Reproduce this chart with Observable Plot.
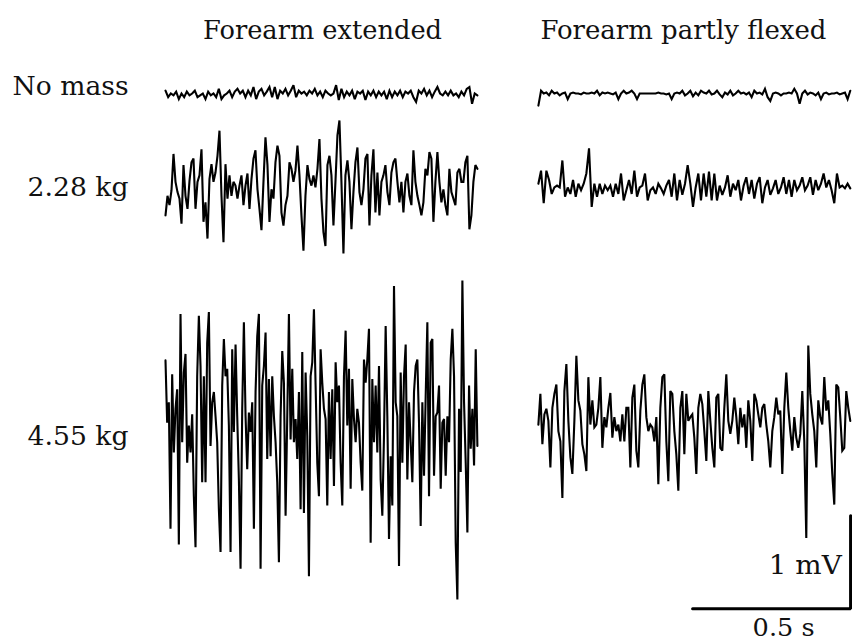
<!DOCTYPE html>
<html>
<head>
<meta charset="utf-8">
<script src="https://cdn.jsdelivr.net/npm/d3@7"></script>
<script src="https://cdn.jsdelivr.net/npm/@observablehq/plot@0.6"></script>
<style>
  html, body { margin: 0; padding: 0; background: #fff; }
  #chart { width: 852px; height: 643px; overflow: hidden; }
</style>
</head>
<body>
<div id="chart"></div>
<script>
// ---- Labels ----
const columns = ["Forearm extended", "Forearm partly flexed"];
const rows = ["No mass", "2.28 kg", "4.55 kg"];
const scaleBarLabels = ["1 mV", "0.5 s"];
const scaleBarValues = { mV: 1, s: 0.5 };
const traceDuration = 0.987; // seconds per trace

// ---- EMG traces (mV, deviations from each trace's own baseline) ----
const extended_noMass = [0.04,-0.03,0.01,-0.01,0.03,-0.05,0.01,-0.03,0.03,-0.01,0.01,0.04,-0.03,-0.01,0.01,-0.05,0.03,-0.01,0.01,-0.03,0.06,-0.05,-0.01,0.01,0.04,-0.03,0.03,0.06,0.01,0.04,-0.03,0.04,-0.01,0.08,-0.05,0.03,0.06,-0.01,0.03,0.08,-0.03,0.08,-0.05,0.04,0.01,0.06,-0.01,0.04,0.10,-0.03,0.04,0.01,0.03,-0.01,0.04,0.01,0.06,-0.01,0.03,-0.03,0.04,0.01,-0.01,0.01,0.10,-0.06,0.06,-0.03,0.03,-0.01,0.04,-0.05,0.03,0.01,0.04,-0.06,0.03,-0.01,0.04,-0.03,0.03,-0.01,0.03,-0.05,0.04,-0.03,0.03,-0.01,0.04,-0.03,0.03,0.01,0.04,-0.03,-0.08,0.04,0.01,0.06,-0.01,0.04,-0.03,0.03,0.08,0.01,-0.01,0.03,-0.01,0.04,-0.01,0.01,-0.03,0.03,-0.01,0.06,0.08,-0.10,0.01,-0.01];

const extended_228 = [-0.32,-0.11,-0.21,-0.05,0.34,0.04,-0.07,-0.14,-0.41,0.22,-0.11,-0.25,0.05,0.25,0.29,-0.25,0.04,0.11,0.39,-0.39,-0.18,-0.57,0.07,0.23,0.04,0.14,0.32,0.59,-0.11,-0.61,0.23,-0.14,0.11,-0.11,0.04,0.00,-0.14,0.00,0.11,-0.21,0.00,0.13,-0.25,0.07,0.29,0.38,-0.04,-0.25,-0.48,0.04,0.52,0.22,-0.39,-0.04,-0.14,0.25,0.43,0.32,-0.29,-0.43,-0.21,-0.11,0.25,0.18,0.04,0.16,0.43,0.11,-0.32,-0.70,-0.11,0.22,0.07,0.00,0.11,-0.02,0.18,0.50,-0.14,-0.50,
  -0.65,0.22,0.32,0.11,-0.43,0.04,0.54,0.70,0.04,-0.73,0.11,0.27,0.04,-0.47,-0.07,0.25,0.41,-0.07,-0.21,-0.04,0.29,0.34,-0.43,0.11,0.39,-0.29,0.14,-0.32,0.04,0.11,0.22,-0.07,-0.21,0.14,0.25,0.29,0.04,-0.18,0.04,-0.29,0.04,0.13,-0.11,-0.21,0.38,0.04,-0.11,-0.21,-0.32,-0.18,0.18,0.11,0.36,0.29,-0.39,0.04,0.36,0.04,-0.18,-0.04,-0.21,-0.32,0.18,-0.07,-0.14,-0.21,0.14,0.18,0.04,0.04,0.25,0.32,-0.47,-0.32,0.04,0.22,0.18];

const extended_455 = [0.65,-0.02,0.20,-1.16,0.50,-0.34,0.13,0.34,-1.33,1.15,-0.23,0.52,0.72,-0.45,-0.05,-0.34,0.07,-0.81,-1.36,0.48,1.13,0.59,-0.66,0.48,-0.66,0.84,1.17,-0.27,0.20,0.31,0.05,-0.23,-0.95,-1.41,0.38,0.88,0.48,0.56,-0.05,-1.41,0.77,-0.12,0.82,0.05,-0.63,-1.59,0.13,1.06,0.05,-0.52,0.09,-0.12,0.20,-1.16,0.31,0.91,1.15,-1.59,0.38,0.59,0.95,-0.41,0.45,-0.38,0.48,0.05,-0.23,-0.66,-1.52,0.05,0.75,0.41,-1.02,0.05,1.15,-0.20,0.56,-0.23,0.02,-0.41,0.31,-0.95,0.74,-0.99,0.52,-0.16,-1.67,0.48,0.63,1.20,0.38,-0.45,-0.81,0.77,0.41,0.13,
  0.02,-0.91,0.31,-0.41,0.34,-0.70,0.63,0.20,0.38,-0.45,-0.91,0.48,0.97,-0.05,0.56,-0.73,0.45,0.02,-0.23,0.13,-0.02,-0.45,-0.75,0.66,0.41,0.66,0.99,-1.31,0.45,-0.23,0.38,-0.34,0.59,-0.63,-1.02,-0.16,1.02,0.05,-1.27,-0.38,-0.91,1.45,0.20,0.05,-1.56,0.52,-0.45,0.48,0.82,-0.63,0.20,-0.23,-0.66,0.31,0.59,0.66,-0.02,-1.13,0.20,-0.59,0.27,1.06,-0.81,0.84,0.88,-0.59,0.05,0.09,0.38,-0.73,-0.02,0.02,-0.59,0.05,-0.23,0.66,0.99,0.48,-1.31,-1.92,0.13,-0.55,1.51,0.20,-0.45,-1.20,0.38,-0.30,0.13,-0.48,0.77,-0.27];

const flexed_noMass = [-0.13,0.03,0.00,0.01,-0.02,0.03,0.00,0.01,-0.02,0.00,0.01,-0.06,0.00,0.01,0.00,0.00,-0.01,0.01,0.00,0.00,0.01,0.00,0.03,-0.02,0.01,0.00,0.01,0.00,-0.01,0.01,-0.06,0.00,0.03,0.00,0.01,0.03,0.00,-0.06,0.00,0.00,0.00,0.00,0.00,0.00,0.00,0.01,0.00,0.00,-0.01,0.00,-0.06,0.00,0.01,0.00,0.03,-0.02,0.00,0.03,-0.03,0.01,-0.02,0.03,0.01,0.00,0.03,-0.01,0.00,0.03,-0.01,-0.04,0.01,-0.01,0.03,-0.02,0.00,0.03,0.00,0.01,-0.01,0.01,-0.04,0.03,0.00,0.01,-0.01,0.05,-0.04,-0.08,0.00,0.01,0.00,-0.02,0.00,0.00,0.01,0.00,0.05,0.00,-0.11,0.00,0.03,-0.01,0.01,0.00,-0.02,0.01,-0.06,0.00,0.01,-0.01,0.00,0.00,0.01,-0.01,0.00,0.01,-0.06,0.03];

const flexed_228 = [0.05,0.19,-0.16,0.19,0.09,-0.06,0.01,0.03,0.01,0.30,-0.09,0.01,-0.06,0.09,-0.09,0.05,-0.02,0.05,0.16,0.43,-0.20,0.05,-0.09,0.05,-0.06,0.03,-0.02,0.03,-0.09,0.05,-0.06,0.16,-0.13,-0.02,0.09,-0.06,0.19,-0.09,0.01,0.03,0.16,-0.13,-0.02,0.01,-0.06,0.05,0.00,-0.06,0.03,0.09,-0.09,0.16,-0.13,0.09,-0.07,0.05,0.25,0.05,-0.20,0.01,0.16,-0.13,0.16,-0.09,0.18,-0.13,0.16,-0.13,0.03,-0.07,0.01,0.14,-0.09,0.05,-0.02,0.09,-0.13,0.03,0.12,-0.06,0.09,-0.11,0.05,0.12,-0.16,0.01,0.09,-0.07,0.00,0.09,-0.06,0.01,0.12,-0.06,0.09,-0.09,0.09,-0.02,0.03,0.12,-0.02,0.03,0.12,-0.07,0.09,-0.02,0.05,0.16,0.01,0.09,-0.02,-0.16,0.16,0.01,0.03,0.00,0.05,0.00];

const flexed_455 = [-0.04,0.29,-0.25,0.07,0.13,0.00,-0.50,0.14,0.29,0.39,-0.11,-0.22,-0.83,0.32,0.61,0.00,-0.39,-0.57,0.00,0.70,0.22,0.11,-0.25,-0.36,-0.54,0.47,-0.04,0.22,-0.07,-0.04,0.14,0.47,-0.29,0.04,-0.07,0.14,0.30,-0.18,0.04,-0.11,-0.04,-0.22,0.07,-0.22,0.14,0.14,-0.50,0.25,0.39,-0.32,-0.50,0.11,0.39,0.50,0.04,-0.11,-0.04,-0.07,-0.22,0.04,-0.68,0.14,0.47,0.50,-0.22,-0.65,0.32,0.29,-0.11,-0.36,-0.75,0.14,0.32,-0.36,0.29,0.00,0.04,0.07,
  -0.18,-0.57,0.14,0.29,0.18,-0.11,-0.43,0.32,0.00,-0.29,-0.50,0.25,0.29,-0.29,-0.32,0.14,0.50,0.00,-0.14,0.00,0.25,0.04,-0.25,0.14,-0.07,0.07,-0.29,0.22,0.00,-0.43,0.29,0.22,0.07,-0.07,0.14,0.18,-0.04,-0.22,-0.50,-0.11,0.04,0.25,0.07,0.11,-0.57,0.14,0.52,0.14,-0.11,-0.32,0.04,-0.18,-0.29,-0.14,0.32,-0.22,-1.26,0.81,0.29,0.07,-0.11,-0.50,0.22,0.04,-0.04,0.47,0.11,0.22,-0.14,-0.57,-0.90,0.39,0.36,0.04,-0.32,-0.29,0.32,0.14,0.00];

// ---- Layout (not data): where each trace sits on the shared time / voltage axes ----
const colStart = [0, 1.18];                 // s
const baselines = [[-1.01, -1.99, -4.52],   // mV, extended column
                   [-1.00, -2.02, -4.52]];  // mV, flexed column
const traces = [[extended_noMass, extended_228, extended_455],
                [flexed_noMass, flexed_228, flexed_455]];

const pts = [];
traces.forEach((col, c) => col.forEach((vals, r) => {
  const n = vals.length;
  vals.forEach((v, i) => pts.push({
    id: `${c}-${r}`,
    t: colStart[c] + i * traceDuration / (n - 1),
    v: baselines[c][r] + v
  }));
}));

// scale bar (L shape) in data units
const barX = 2.168, barY = -6.54;
const scaleBar = [
  {t: barX - scaleBarValues.s, v: barY},
  {t: barX, v: barY},
  {t: barX, v: barY + scaleBarValues.mV}
];

const titles = columns.map((name, c) => ({name, t: [0.497, 1.639][c], v: -0.32}));
const rowLabels = rows.map((name, r) => ({name, t: -0.117, v: [-0.925, -2.01, -4.69][r]}));
const mvLabel = [{name: scaleBarLabels[0], t: 2.140, v: -6.075}];
const sLabel = [{name: scaleBarLabels[1], t: 1.956, v: -6.755}];

// target rendered widths (px) so the fallback serif matches the original lettering
const textWidths = {
  "Forearm extended": 239, "Forearm partly flexed": 286,
  "No mass": 116, "2.28 kg": 101, "4.55 kg": 101, "1 mV": 73, "0.5 s": 62
};

const font = "'DejaVu Serif', Georgia, serif";
const txt = {x: "t", y: "v", text: "name", fontSize: 26, fill: "#111", fontFamily: font};
const chart = Plot.plot({
  width: 852,
  height: 643,
  margin: 0,
  x: {domain: [-165 / 316, (852 - 165) / 316], axis: null},
  y: {domain: [-643 / 93, 0], axis: null},
  style: {background: "#fff", fontFamily: font},
  marks: [
    Plot.line(pts, {x: "t", y: "v", z: "id", stroke: "#000", strokeWidth: 2.1, strokeLinejoin: "miter", strokeMiterlimit: 3, curve: "linear"}),
    Plot.line(scaleBar, {x: "t", y: "v", stroke: "#000", strokeWidth: 3, strokeLinejoin: "miter"}),
    Plot.text(titles, txt),
    Plot.text(rowLabels, {...txt, textAnchor: "end"}),
    Plot.text(mvLabel, {...txt, textAnchor: "end"}),
    Plot.text(sLabel, {...txt, fontSize: 24})
  ]
});
d3.select(chart).selectAll("text").each(function() {
  const w = textWidths[this.textContent];
  if (w) {
    this.setAttribute("textLength", w);
    this.setAttribute("lengthAdjust", "spacingAndGlyphs");
  }
});
document.getElementById("chart").append(chart);
</script>
</body>
</html>
